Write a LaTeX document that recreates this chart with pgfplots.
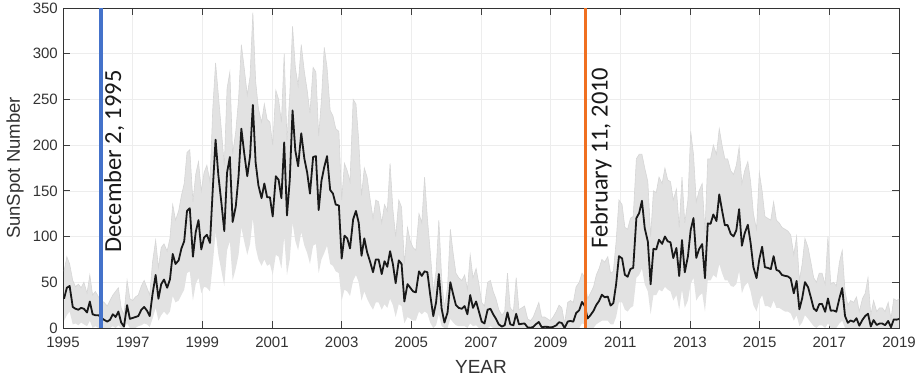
\documentclass[border=0pt]{standalone}
\usepackage{fontspec}
\setmainfont{Liberation Sans}
\newfontfamily\calibri{Carlito}
\usepackage{pgfplots}
\usepackage{pgfplotstable}
\pgfplotsset{compat=1.18}
\usepgfplotslibrary{fillbetween}
\definecolor{vblue}{RGB}{68,114,202}
\definecolor{vorange}{RGB}{240,112,32}
\definecolor{band}{RGB}{226,226,226}
\definecolor{bandedge}{RGB}{214,214,214}
\pgfplotstableread{
x y hi lo
1995.03 32 62 8
1995.11 44 78 14
1995.19 46 70 18
1995.28 23 52 4
1995.36 21 45 5
1995.44 20 48 3
1995.52 22 44 6
1995.60 21 50 4
1995.69 17 38 2
1995.77 29 58 8
1995.85 15 36 0
1995.93 14 40 2
1996.02 14 34 0
1996.10 11 30 0
1996.18 9 28 0
1996.27 7 24 0
1996.35 9 30 0
1996.43 15 36 2
1996.51 12 40 0
1996.59 18 44 3
1996.67 6 22 0
1996.75 1.5 14 0
1996.84 25 52 5
1996.92 10 32 0
1997.00 11 30 0
1997.08 12 34 0
1997.16 13 36 2
1997.25 20 46 3
1997.33 23 52 5
1997.41 19 44 4
1997.49 13 36 1
1997.57 37 72 10
1997.66 58 96 22
1997.74 32 66 8
1997.82 48 88 14
1997.90 53 92 18
1997.99 44 84 14
1998.07 53 98 18
1998.15 81 135 35
1998.23 70 118 28
1998.32 74 128 30
1998.40 87 145 36
1998.48 95 158 42
1998.56 128 192 60
1998.64 131 195 62
1998.73 78 138 30
1998.81 105 168 48
1998.89 118 182 55
1998.97 86 150 38
1999.05 99 170 45
1999.13 102 178 44
1999.22 93 160 40
1999.30 152 240 70
1999.38 206 290 105
1999.46 167 255 80
1999.55 136 215 62
1999.63 106 178 46
1999.71 170 262 85
1999.79 187 280 95
1999.87 116 190 52
1999.96 133 215 65
2000.04 166 250 80
2000.12 218 310 110
2000.20 192 285 95
2000.29 166 255 80
2000.37 188 275 92
2000.45 244 345 120
2000.53 181 270 88
2000.61 156 240 75
2000.70 142 225 68
2000.78 158 245 75
2000.86 143 228 68
2000.94 143 225 70
2001.02 122 200 58
2001.11 166 260 80
2001.19 162 250 78
2001.27 142 225 65
2001.35 203 300 100
2001.43 123 205 58
2001.51 162 255 75
2001.59 238 330 115
2001.67 194 285 95
2001.75 177 265 85
2001.84 213 310 105
2001.93 185 280 90
2002.01 170 260 82
2002.09 147 235 70
2002.18 187 285 90
2002.26 188 280 92
2002.34 129 210 60
2002.42 161 250 75
2002.50 176 307 82
2002.58 188 285 90
2002.67 151 238 70
2002.75 147 232 68
2002.83 135 218 62
2002.92 134 215 60
2003.00 76 140 30
2003.08 101 180 42
2003.16 98 172 40
2003.24 87 160 35
2003.33 119 250 52
2003.41 128 245 58
2003.49 115 205 50
2003.57 79 145 30
2003.65 98 175 40
2003.73 83 165 32
2003.82 72 140 25
2003.90 61 120 20
2003.98 75 140 28
2004.06 75 138 28
2004.15 59 115 20
2004.23 73 135 26
2004.31 67 128 22
2004.39 84 180 32
2004.47 70 130 25
2004.55 49 100 12
2004.64 74 140 26
2004.72 70 132 24
2004.80 29 70 5
2004.89 48 110 12
2004.97 44 95 10
2005.05 40 88 8
2005.13 39 85 8
2005.22 62 125 18
2005.30 57 115 15
2005.38 62 165 18
2005.46 61 120 16
2005.54 37 85 6
2005.63 13 40 0
2005.71 28 62 3
2005.79 59 118 15
2005.87 21 55 2
2005.95 6 22 0
2006.04 17 45 0
2006.12 50 108 10
2006.20 37 82 6
2006.28 25 60 3
2006.36 22 55 2
2006.45 21 52 2
2006.53 24 58 2
2006.61 15 42 0
2006.69 36 80 5
2006.77 22 55 2
2006.86 29 65 3
2006.94 18 48 0
2007.02 7 28 0
2007.10 5 24 0
2007.19 20 50 0
2007.27 21 52 2
2007.35 15 40 0
2007.43 10 32 0
2007.51 4 20 0
2007.60 1.5 14 0
2007.68 3 18 0
2007.76 17 60 0
2007.84 4 22 0
2007.93 3 18 0
2008.01 15.5 55 0
2008.09 4 20 0
2008.17 4.6 22 0
2008.25 5 24 0
2008.34 0.6 10 0
2008.42 0.3 8 0
2008.50 1.2 12 0
2008.58 4.2 20 0
2008.66 6.6 28 0
2008.74 1 12 0
2008.83 1.3 12 0
2008.91 1.2 10 0
2008.99 0.6 8 0
2009.07 1.2 12 0
2009.16 2.9 18 0
2009.24 6.3 25 0
2009.32 5.5 22 0
2009.40 0 5 0
2009.49 7.1 28 0
2009.57 7.7 30 0
2009.65 6.9 28 0
2009.73 16.3 45 0
2009.82 19.5 50 0
2009.90 28.5 60 5
2009.98 24 55 4
2010.06 10.4 32 0
2010.14 13.9 38 0
2010.23 18.8 45 0
2010.31 25.2 58 4
2010.39 29.6 65 6
2010.47 36.4 75 8
2010.55 33.6 72 8
2010.64 34.4 78 8
2010.72 24.5 60 4
2010.80 27.3 62 4
2010.88 48.3 95 12
2010.96 78.6 140 28
2011.05 76.1 135 28
2011.13 58.2 110 20
2011.21 56.1 108 18
2011.29 64.5 120 22
2011.37 65.8 122 24
2011.46 120.1 185 55
2011.54 125.7 190 58
2011.62 139.1 190 65
2011.70 109.3 175 48
2011.79 94.4 160 40
2011.87 47.8 100 15
2011.95 86.6 150 36
2012.03 85.9 148 36
2012.11 96.5 165 42
2012.20 92 158 40
2012.28 100.1 175 45
2012.36 94.8 162 42
2012.44 93.7 160 40
2012.52 76.5 140 30
2012.61 87.6 152 36
2012.69 56.8 110 20
2012.77 96.1 165 42
2012.85 60.9 115 22
2012.94 78.3 140 30
2013.02 107.3 215 48
2013.10 120.2 190 55
2013.18 76.7 138 30
2013.26 86.2 150 35
2013.35 91.8 158 38
2013.43 54.5 105 18
2013.51 114.4 185 52
2013.59 113.9 185 52
2013.67 124.2 200 58
2013.76 117 190 55
2013.84 146.1 218 70
2013.92 128.7 200 60
2014.00 112.5 185 52
2014.08 112.5 185 52
2014.17 102.9 172 46
2014.25 100.2 168 45
2014.33 106.9 178 48
2014.41 130 198 62
2014.49 90 158 38
2014.57 103.6 172 46
2014.66 112.9 182 50
2014.74 93 160 40
2014.82 66.7 125 25
2014.91 54.5 108 18
2014.99 75.3 170 30
2015.07 88.8 150 36
2015.15 66.5 122 24
2015.23 65.8 120 24
2015.32 64.4 118 22
2015.40 78.6 138 30
2015.48 63.6 118 22
2015.56 62.2 115 22
2015.64 58 110 20
2015.73 57 108 18
2015.81 56.4 106 18
2015.89 54.1 102 16
2015.98 37.9 80 8
2016.06 51.5 100 14
2016.14 20.5 52 2
2016.22 32.4 70 6
2016.30 50.2 98 14
2016.39 44.6 88 10
2016.47 33.4 72 6
2016.55 21.4 55 2
2016.63 18.5 50 0
2016.71 26.1 60 3
2016.79 26.4 60 3
2016.88 17.7 48 0
2016.96 32.3 100 5
2017.04 18.9 48 0
2017.12 19.2 50 0
2017.20 17.8 46 0
2017.29 32.6 72 5
2017.37 43.7 85 8
2017.45 13.2 40 0
2017.53 5.7 25 0
2017.61 8.2 30 0
2017.70 6.8 28 0
2017.78 10.7 34 0
2017.86 2.5 18 0
2017.95 8.9 32 0
2018.03 13.1 38 0
2018.11 15.6 55 0
2018.19 1.6 14 0
2018.27 8.7 30 0
2018.36 3.3 18 0
2018.44 4.9 22 0
2018.52 4.9 22 0
2018.60 3.1 18 0
2018.69 7.7 28 0
2018.77 0.8 10 0
2018.85 9.4 32 0
2018.93 9.1 30 0
2019.01 9.9 32 0
}\sun
\begin{document}
\begin{tikzpicture}
\begin{axis}[
  scale only axis,
  width=836pt, height=320pt,
  xmin=1995, xmax=2019, ymin=0, ymax=350,
  xtick={1995,1997,...,2019},
  ytick={0,50,...,350},
  /pgf/number format/assume math mode=true,
  /pgf/number format/1000 sep={},
  ticklabel style={font=\fontsize{15}{17}\selectfont, text=black!80, inner sep=0pt},
  xticklabel style={yshift=-9pt},
  yticklabel style={xshift=-5pt},
  tick align=inside,
  major tick length=7pt,
  tick style={black!75, line width=0.8pt},
  grid=major,
  major grid style={gray!14, line width=0.6pt},
  axis line style={black!80, line width=0.9pt},
  xlabel={YEAR},
  ylabel={SunSpot Number},
  xlabel style={font=\fontsize{19}{22}\selectfont, text=black!80, at={(axis description cs:0.5,0)}, anchor=north, yshift=-32pt, inner sep=0pt},
  ylabel style={font=\fontsize{18.5}{21}\selectfont, text=black!80, at={(axis description cs:0,0.5)}, anchor=south, yshift=39pt, inner sep=0pt},
  clip=true,
]
\addplot[draw=none, name path=H, forget plot] table[x=x, y=hi] {\sun};
\addplot[draw=none, name path=L, forget plot] table[x=x, y=lo] {\sun};
\addplot[band, forget plot] fill between[of=H and L];
\addplot[bandedge, line width=0.6pt, forget plot] table[x=x, y=hi] {\sun};
\addplot[black!90, line width=1.8pt, line join=round, mark=none] table[x=x, y=y] {\sun};
\addplot[vblue, line width=3.2pt, mark=none] coordinates {(1996.09,0) (1996.09,350)};
\addplot[vorange, line width=2.6pt, mark=none] coordinates {(2010.0,0) (2010.0,350)};
\node[xshift=3pt, rotate=90, anchor=north west, inner sep=0pt, font=\calibri\fontsize{24.5}{27}\selectfont, text=black!90] at (axis cs:1996.09,82) {December 2, 1995};
\node[xshift=5pt, rotate=90, anchor=north west, inner sep=0pt, font=\calibri\fontsize{24.5}{27}\selectfont, text=black!90] at (axis cs:2010.0,87) {February 11, 2010};
\end{axis}
\path[use as bounding box] (-63pt,-49pt) rectangle (855pt,328pt);
\end{tikzpicture}
\end{document}
